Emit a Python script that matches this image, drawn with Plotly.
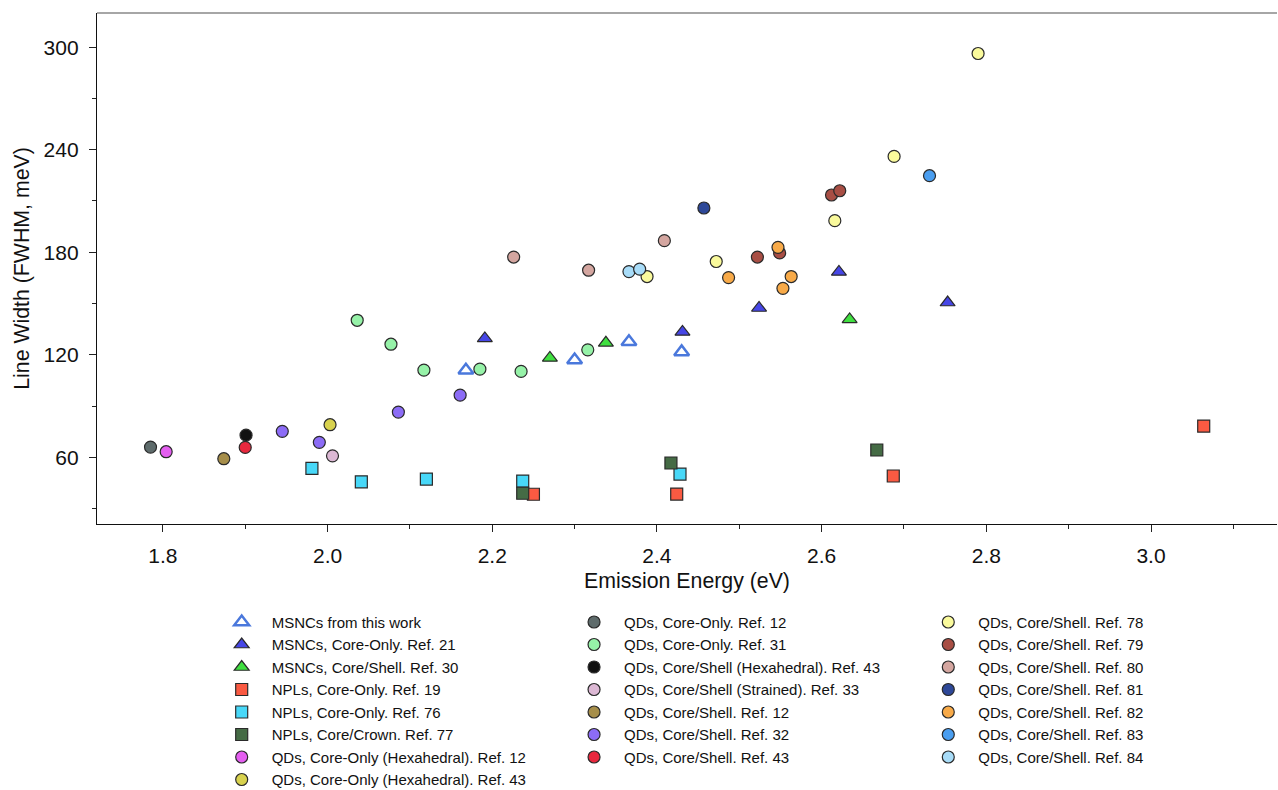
import plotly.graph_objects as go

# ---- data (Emission energy eV, FWHM meV) ----
names = [
    "MSNCs from this work",
    "MSNCs, Core-Only. Ref. 21",
    "MSNCs, Core/Shell. Ref. 30",
    "NPLs, Core-Only. Ref. 19",
    "NPLs, Core-Only. Ref. 76",
    "NPLs, Core/Crown. Ref. 77",
    "QDs, Core-Only (Hexahedral). Ref. 12",
    "QDs, Core-Only (Hexahedral). Ref. 43",
    "QDs, Core-Only. Ref. 12",
    "QDs, Core-Only. Ref. 31",
    "QDs, Core/Shell (Hexahedral). Ref. 43",
    "QDs, Core/Shell (Strained). Ref. 33",
    "QDs, Core/Shell. Ref. 12",
    "QDs, Core/Shell. Ref. 32",
    "QDs, Core/Shell. Ref. 43",
    "QDs, Core/Shell. Ref. 78",
    "QDs, Core/Shell. Ref. 79",
    "QDs, Core/Shell. Ref. 80",
    "QDs, Core/Shell. Ref. 81",
    "QDs, Core/Shell. Ref. 82",
    "QDs, Core/Shell. Ref. 83",
    "QDs, Core/Shell. Ref. 84",
]

msnc_work_x = [2.168, 2.300, 2.366, 2.430]
msnc_work_y = [111.0, 116.9, 127.6, 121.7]
msnc_r21_x = [2.191, 2.431, 2.524, 2.621, 2.753]
msnc_r21_y = [129.6, 133.4, 147.4, 168.5, 150.6]
msnc_r30_x = [2.270, 2.338, 2.634]
msnc_r30_y = [118.2, 127.0, 140.7]
npl_r19_x = [2.250, 2.424, 2.687, 3.064]
npl_r19_y = [38.4, 38.5, 49.1, 78.3]
npl_r76_x = [1.981, 2.041, 2.120, 2.237, 2.428]
npl_r76_y = [53.6, 45.7, 47.3, 46.1, 50.2]
npl_r77_x = [2.237, 2.417, 2.667]
npl_r77_y = [39.0, 56.7, 64.3]
qd_hex12_x = [1.804]
qd_hex12_y = [63.3]
qd_hex43_x = [2.003]
qd_hex43_y = [79.1]
qd_co12_x = [1.785]
qd_co12_y = [66.0]
qd_co31_x = [2.036, 2.077, 2.117, 2.185, 2.235, 2.316]
qd_co31_y = [140.2, 126.2, 111.0, 111.6, 110.3, 122.9]
qd_cshex43_x = [1.901]
qd_cshex43_y = [73.0]
qd_str33_x = [2.006]
qd_str33_y = [60.9]
qd_cs12_x = [1.874]
qd_cs12_y = [59.2]
qd_cs32_x = [1.945, 1.990, 2.086, 2.161]
qd_cs32_y = [75.2, 68.8, 86.5, 96.4]
qd_cs43_x = [1.900]
qd_cs43_y = [65.8]
qd_cs78_x = [2.790, 2.688, 2.616, 2.472, 2.388]
qd_cs78_y = [296.3, 236.1, 198.5, 174.6, 165.8]
qd_cs79_x = [2.612, 2.622, 2.522, 2.549]
qd_cs79_y = [213.5, 216.0, 177.2, 179.6]
qd_cs80_x = [2.226, 2.317, 2.409]
qd_cs80_y = [177.2, 169.5, 186.8]
qd_cs81_x = [2.457]
qd_cs81_y = [205.9]
qd_cs82_x = [2.547, 2.487, 2.563, 2.553]
qd_cs82_y = [182.9, 165.2, 165.8, 158.9]
qd_cs83_x = [2.731]
qd_cs83_y = [224.8]
qd_cs84_x = [2.366, 2.379]
qd_cs84_y = [168.7, 170.1]

xs = [msnc_work_x, msnc_r21_x, msnc_r30_x, npl_r19_x, npl_r76_x, npl_r77_x,
      qd_hex12_x, qd_hex43_x, qd_co12_x, qd_co31_x, qd_cshex43_x, qd_str33_x,
      qd_cs12_x, qd_cs32_x, qd_cs43_x, qd_cs78_x, qd_cs79_x, qd_cs80_x,
      qd_cs81_x, qd_cs82_x, qd_cs83_x, qd_cs84_x]
ys = [msnc_work_y, msnc_r21_y, msnc_r30_y, npl_r19_y, npl_r76_y, npl_r77_y,
      qd_hex12_y, qd_hex43_y, qd_co12_y, qd_co31_y, qd_cshex43_y, qd_str33_y,
      qd_cs12_y, qd_cs32_y, qd_cs43_y, qd_cs78_y, qd_cs79_y, qd_cs80_y,
      qd_cs81_y, qd_cs82_y, qd_cs83_y, qd_cs84_y]

colors = ["#4a78dc", "#4646e6", "#40e040", "#fa5a42", "#48d8f8", "#456b45",
          "#e45ef0", "#d8d24e", "#5e6b6b", "#96f2a8", "#111111", "#dcb8d4",
          "#a68e4a", "#8c6cf6", "#e8283e", "#fafa9c", "#a84e44", "#d4a6a0",
          "#2e4898", "#f8aa48", "#4a9ef0", "#a8dcf8"]
symbols = ["triangle-up-open", "triangle-up", "triangle-up", "square", "square",
           "square"] + ["circle"] * 16

x_ticks = [1.8, 2.0, 2.2, 2.4, 2.6, 2.8, 3.0]
y_ticks = [60, 120, 180, 240, 300]

FONT = "Liberation Sans, Arial, sans-serif"

fig = go.Figure()
for i, (n, x, y, c, s) in enumerate(zip(names, xs, ys, colors, symbols)):
    if i < 8:
        lg = "legend"
    elif i < 15:
        lg = "legend2"
    else:
        lg = "legend3"
    if s == "triangle-up-open":
        marker = dict(symbol=s, size=13, color=c, line=dict(color=c, width=2.5))
    elif s.startswith("triangle"):
        marker = dict(symbol=s, size=13, color=c, line=dict(color="#2a2a2a", width=1.2))
    else:
        marker = dict(symbol=s, size=12, color=c, line=dict(color="#2a2a2a", width=1.2))
    fig.add_trace(go.Scatter(x=x, y=y, mode="markers", name=n, marker=marker,
                             legend=lg, legendgroup=n, showlegend=True))

leg_common = dict(font=dict(family=FONT, size=15, color="#111"),
                  bgcolor="rgba(0,0,0,0)", borderwidth=0, itemwidth=50,
                  xanchor="left", yanchor="top", orientation="v",
                  traceorder="grouped", tracegroupgap=0)

fig.update_layout(
    width=1278, height=790,
    margin=dict(l=97, r=1, t=13, b=266, autoexpand=False),
    paper_bgcolor="white", plot_bgcolor="white",
    font=dict(family=FONT, size=21, color="#111"),
    legend=dict(x=0.0972, y=-0.160, **leg_common),
    legend2=dict(x=0.3958, y=-0.160, **leg_common),
    legend3=dict(x=0.6960, y=-0.160, **leg_common),
    xaxis=dict(range=[1.72, 3.153], tickvals=x_ticks, tickformat=".1f",
               ticks="outside", ticklen=7, tickwidth=1.2, tickcolor="#222",
               ticklabelstandoff=6,
               showline=True, linecolor="#111", linewidth=1.3,
               showgrid=False, zeroline=False,
               minor=dict(dtick=0.1, tick0=1.8, ticks="outside", ticklen=4,
                          tickwidth=1.1, tickcolor="#222", showgrid=False),
               title=dict(text="Emission Energy (eV)", font=dict(size=21.3), standoff=6),
               tickfont=dict(size=21)),
    yaxis=dict(range=[21, 320], tickvals=y_ticks,
               ticks="outside", ticklen=7, tickwidth=1.2, tickcolor="#222",
               ticklabelstandoff=6,
               showline=True, linecolor="#111", linewidth=1.3,
               showgrid=False, zeroline=False,
               minor=dict(dtick=30, tick0=0, ticks="outside", ticklen=4,
                          tickwidth=1.1, tickcolor="#222", showgrid=False),
               title=dict(text="Line Width (FWHM, meV)", font=dict(size=21.3), standoff=8),
               tickfont=dict(size=21)),
    shapes=[dict(type="line", xref="paper", yref="paper", x0=0, x1=1, y0=1, y1=1,
                 line=dict(color="#888888", width=1.5))],
)

fig.write_html("out.html")
